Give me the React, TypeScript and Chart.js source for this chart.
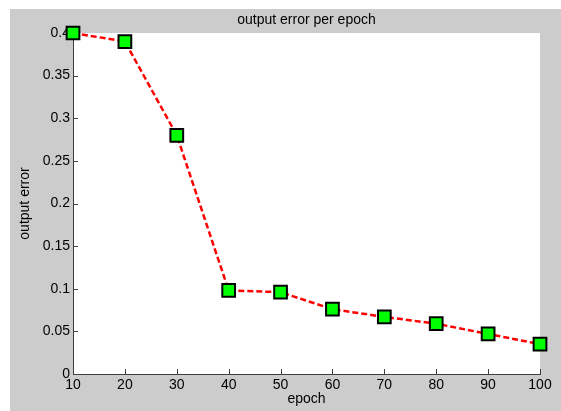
import React, { useEffect, useRef } from 'react';
import { Chart, registerables } from 'chart.js';

Chart.register(...registerables);

const epochs = [10, 20, 30, 40, 50, 60, 70, 80, 90, 100];
const outputError = [0.4, 0.39, 0.28, 0.098, 0.096, 0.076, 0.067, 0.059, 0.047, 0.035];
const xTickLabels = ['10', '20', '30', '40', '50', '60', '70', '80', '90', '100'];
const yTickLabels = ['0', '0.05', '0.1', '0.15', '0.2', '0.25', '0.3', '0.35', '0.4'];

const AXIS_COLOR = '#404040';
const FONT = '"Liberation Sans", Arial, sans-serif';

const plotBackground = {
  id: 'plotBackground',
  beforeDraw(chart: any) {
    const { ctx, chartArea } = chart;
    ctx.save();
    ctx.fillStyle = '#ffffff';
    ctx.fillRect(chartArea.left, chartArea.top, chartArea.right - chartArea.left, chartArea.bottom - chartArea.top);
    ctx.restore();
  },
};

const inwardTicks = {
  id: 'inwardTicks',
  beforeDatasetsDraw(chart: any) {
    const { ctx, chartArea, scales } = chart;
    ctx.save();
    ctx.strokeStyle = AXIS_COLOR;
    ctx.lineWidth = 1;
    ctx.beginPath();
    scales.x.ticks.forEach((t: any) => {
      const px = Math.round(scales.x.getPixelForValue(t.value)) + 0.5;
      ctx.moveTo(px, chartArea.bottom);
      ctx.lineTo(px, chartArea.bottom - 5);
    });
    scales.y.ticks.forEach((t: any) => {
      const py = Math.round(scales.y.getPixelForValue(t.value)) + 0.5;
      ctx.moveTo(chartArea.left, py);
      ctx.lineTo(chartArea.left + 5, py);
    });
    ctx.stroke();
    ctx.restore();
  },
};

export default function App() {
  const canvasRef = useRef<HTMLCanvasElement | null>(null);

  useEffect(() => {
    if (!canvasRef.current) return;
    const chart = new Chart(canvasRef.current, {
      type: 'line',
      data: {
        labels: epochs,
        datasets: [
          {
            data: epochs.map((e, i) => ({ x: e, y: outputError[i] })),
            borderColor: '#ff0000',
            borderWidth: 2.5,
            borderDash: [6, 3],
            pointStyle: 'rect',
            pointRadius: 9,
            pointHoverRadius: 9,
            pointBackgroundColor: '#00ff00',
            pointBorderColor: '#000000',
            pointBorderWidth: 2,
            tension: 0,
            fill: false,
            clip: false as any,
          },
        ],
      },
      options: {
        animation: false,
        responsive: false,
        layout: { padding: { left: 0, top: 0, bottom: 0, right: 21 } },
        plugins: {
          legend: { display: false },
          tooltip: { enabled: false },
          title: { display: false },
        },
        scales: {
          x: {
            type: 'linear',
            min: 10,
            max: 100,
            afterFit: (s: any) => { s.height = 37; },
            ticks: {
              stepSize: 10,
              color: '#000000',
              padding: 3,
              font: { family: FONT, size: 14 },
              callback: (_v: any, i: number) => xTickLabels[i],
            },
            grid: { drawOnChartArea: false, drawTicks: false },
            border: { display: true, color: AXIS_COLOR, width: 1 },
            title: {
              display: true,
              text: 'epoch',
              color: '#000000',
              font: { family: FONT, size: 14 },
              padding: { top: 0, bottom: 3 },
            },
          },
          xTop: {
            type: 'linear',
            position: 'top',
            min: 10,
            max: 100,
            afterFit: (s: any) => { s.height = 24; },
            ticks: { display: false },
            grid: { display: false, drawTicks: false },
            border: { display: false },
            title: {
              display: true,
              text: 'output error per epoch',
              color: '#000000',
              font: { family: FONT, size: 14 },
              padding: { top: 3, bottom: 0 },
            },
          },
          y: {
            type: 'linear',
            min: 0,
            max: 0.4,
            afterFit: (s: any) => { s.width = 63; },
            ticks: {
              stepSize: 0.05,
              color: '#000000',
              padding: 3,
              font: { family: FONT, size: 14 },
              callback: (_v: any, i: number) => yTickLabels[i],
            },
            grid: { drawOnChartArea: false, drawTicks: false },
            border: { display: true, color: AXIS_COLOR, width: 1 },
            title: {
              display: true,
              text: 'output error',
              color: '#000000',
              font: { family: FONT, size: 14 },
              padding: { top: 7, bottom: 0 },
            },
          },
        },
      },
      plugins: [plotBackground, inwardTicks],
    });
    return () => chart.destroy();
  }, []);

  return (
    <div style={{ position: 'absolute', left: 10, top: 9, width: 551, height: 402, background: '#cccccc' }}>
      <canvas ref={canvasRef} width={551} height={402} style={{ display: 'block' }} />
    </div>
  );
}
